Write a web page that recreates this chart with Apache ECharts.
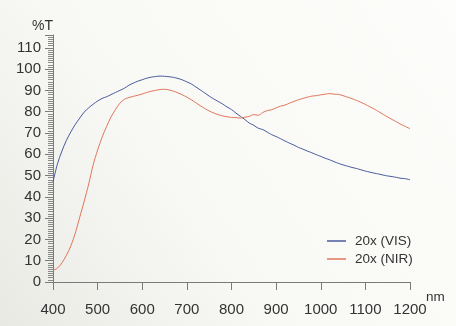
<!DOCTYPE html>
<html>
<head>
<meta charset="utf-8">
<script src="https://cdn.jsdelivr.net/npm/echarts@6/dist/echarts.min.js"></script>
<style>
  html, body { margin: 0; padding: 0; }
  #chart { width: 456px; height: 326px; }
</style>
</head>
<body>
<div id="chart"></div>
<script>
// Wavelength grid (nm) and transmission curves (%T)
const wavelengths = [
  400, 410, 420, 430, 440, 450, 460, 470, 480, 490,
  500, 510, 520, 530, 540, 550, 560, 570, 580, 590,
  600, 610, 620, 630, 640, 650, 660, 670, 680, 690,
  700, 710, 720, 730, 740, 750, 760, 770, 780, 790,
  800, 810, 820, 830, 840, 850, 860, 870, 880, 890,
  900, 910, 920, 930, 940, 950, 960, 970, 980, 990,
  1000, 1010, 1020, 1030, 1040, 1050, 1060, 1070, 1080, 1090,
  1100, 1110, 1120, 1130, 1140, 1150, 1160, 1170, 1180, 1190, 1200
];

const visTransmission = [
  47, 55.5, 61.5, 66.5, 70.5, 74, 77, 79.8, 81.8, 83.5,
  85, 86.2, 87, 88, 89, 90, 91, 92.4, 93.4, 94.3,
  95, 95.7, 96.2, 96.5, 96.7, 96.6, 96.4, 96.1, 95.6, 94.9,
  94, 93, 91.6, 90.2, 88.8, 87.3, 86, 84.8, 83.6, 82.2,
  81, 79.3, 77.8, 76.3, 74.6, 73.6, 72.2, 71.6, 70.4, 69.2,
  68.3, 67.3, 66.2, 65.2, 64.3, 63.2, 62.4, 61.5, 60.7, 59.8,
  59, 58.1, 57.4, 56.5, 55.7, 55, 54.4, 53.8, 53.3, 52.7,
  52.1, 51.6, 51.1, 50.7, 50.2, 49.8, 49.5, 49.1, 48.7, 48.5, 48
];

const nirTransmission = [
  5.5, 6.5, 9, 12.5, 17, 23, 30.5, 38, 46, 55,
  62, 68, 73, 77.5, 81, 84, 85.8, 86.6, 87.2, 87.7,
  88.3, 89, 89.6, 90, 90.4, 90.5, 90.2, 89.6, 88.8, 87.9,
  86.8, 85.6, 84.2, 82.8, 81.5, 80.3, 79.4, 78.6, 78, 77.6,
  77.3, 77.2, 77, 77.4, 77.8, 78.6, 78.3, 79.6, 80.5, 80.9,
  81.8, 82.6, 83.1, 84, 84.8, 85.6, 86.2, 86.8, 87.3, 87.5,
  87.9, 88.2, 88.5, 88.2, 88.1, 87.5, 86.8, 86.1, 85.3, 84.4,
  83.4, 82.3, 81.2, 80, 78.7, 77.5, 76.3, 75.2, 74, 73, 72
];

const seriesNames = ['20x (VIS)', '20x (NIR)'];
const seriesColors = ['#4a5a9c', '#e0765a'];
const xUnit = 'nm';

const pairs = (ys) => wavelengths.map((x, i) => [x, ys[i]]);

const chart = echarts.init(document.getElementById('chart'));
const font = '"Liberation Sans", Arial, sans-serif';
const axisGray = '#7a7a7a';

chart.setOption({
  backgroundColor: {
    type: 'linear', x: 1, y: 0, x2: 0, y2: 1,
    colorStops: [
      { offset: 0, color: '#fdfdfb' },
      { offset: 0.6, color: '#f8f8f5' },
      { offset: 1, color: '#e9e9e4' }
    ]
  },
  animation: false,
  grid: { left: 53, right: 46, top: 35, bottom: 44 },
  graphic: [{
    type: 'text',
    left: 426,
    top: 290,
    style: { text: xUnit, fontFamily: font, fontSize: 13.5, fill: '#333' }
  }],
  legend: {
    orient: 'vertical',
    left: 322,
    top: 229,
    itemWidth: 19,
    itemHeight: 1.5,
    itemGap: 4,
    icon: 'rect',
    data: seriesNames,
    textStyle: { fontFamily: font, fontSize: 13.5, color: '#333', padding: [0, 0, 0, 4] }
  },
  xAxis: {
    type: 'value',
    min: 400,
    max: 1200,
    interval: 100,
    axisLine: { lineStyle: { color: axisGray, width: 1 } },
    axisTick: { length: 8, lineStyle: { color: axisGray } },
    axisLabel: { fontFamily: font, fontSize: 15, color: '#333', margin: 20, formatter: (v) => String(v) },
    splitLine: { show: false }
  },
  yAxis: {
    type: 'value',
    min: 0,
    max: 116,
    interval: 10,
    name: '%T',
    nameLocation: 'end',
    nameGap: 2,
    nameTextStyle: { fontFamily: font, fontSize: 14, color: '#333', align: 'right', padding: [0, 0, 0, 0] },
    axisLine: { show: true, lineStyle: { color: axisGray, width: 1 } },
    axisTick: { show: true, length: 8, lineStyle: { color: axisGray } },
    minorTick: { show: true, splitNumber: 10, length: 5, lineStyle: { color: '#8a8a8a' } },
    axisLabel: {
      fontFamily: font, fontSize: 15, color: '#333', margin: 12,
      formatter: (v) => (v % 10 === 0 ? String(v) : '')
    },
    splitLine: { show: false }
  },
  series: seriesNames.map((name, k) => ({
    name,
    type: 'line',
    data: pairs(k === 0 ? visTransmission : nirTransmission),
    showSymbol: false,
    smooth: 0.3,
    lineStyle: { width: 1, color: seriesColors[k] },
    itemStyle: { color: seriesColors[k] }
  }))
});
</script>
</body>
</html>
